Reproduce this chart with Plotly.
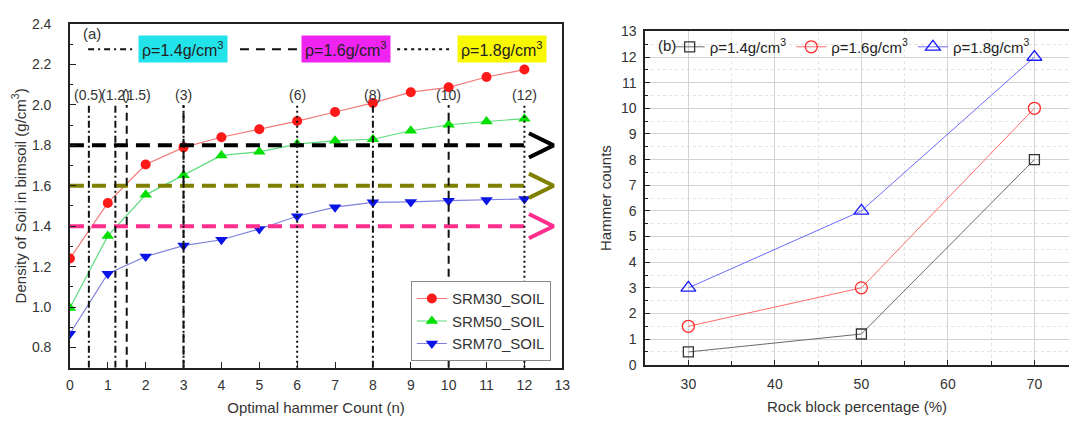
import plotly.graph_objects as go

# ---------------- data ----------------
# (a) density of soil vs hammer count
hammer_n = [0, 1, 2, 3, 4, 5, 6, 7, 8, 9, 10, 11, 12]
srm30_soil = [1.24, 1.515, 1.705, 1.79, 1.84, 1.88, 1.92, 1.965, 2.01, 2.063, 2.087, 2.138, 2.175]
srm50_soil = [0.995, 1.352, 1.555, 1.652, 1.75, 1.768, 1.806, 1.823, 1.83, 1.872, 1.902, 1.918, 1.932]
srm70_soil = [0.868, 1.165, 1.25, 1.304, 1.333, 1.386, 1.449, 1.494, 1.518, 1.52, 1.526, 1.53, 1.535]

# target density levels
rho_levels = [1.4, 1.6, 1.8]
rho_names = ["ρ=1.4g/cm<sup>3</sup>", "ρ=1.6g/cm<sup>3</sup>", "ρ=1.8g/cm<sup>3</sup>"]

# (b) hammer counts needed for each level vs rock block percentage
rock_pct = [30, 50, 70]
counts_rho14 = [0.5, 1.2, 8]
counts_rho16 = [1.5, 3, 10]
counts_rho18 = [3, 6, 12]

series_a = [
    ("SRM30_SOIL", srm30_soil),
    ("SRM50_SOIL", srm50_soil),
    ("SRM70_SOIL", srm70_soil),
]
series_b = [counts_rho14, counts_rho16, counts_rho18]

# ---------------- styles ----------------
FONT = "Arial, Liberation Sans, sans-serif"
a_styles = [
    dict(line="#f27a7a", marker="#ff1a1a", symbol="circle", size=10),
    dict(line="#5fdc7f", marker="#00e000", symbol="triangle-up", size=11),
    dict(line="#8080dc", marker="#0a14e6", symbol="triangle-down", size=11),
]
level_colors = ["#ff2d8c", "#808000", "#000000"]          # horizontal level lines 1.4 / 1.6 / 1.8
level_vdash = ["7px,3px,2px,3px", "8px,5px", "2px,3px"]  # vertical marker line styles
level_sample_dash = ["6px,4px,2px,4px", "9px,7px", "3px,4px"]
level_box_colors = ["#22e2ea", "#f024f0", "#f8f800"]
b_styles = [
    dict(line="#6a6a6a", marker="#333333", symbol="square-open", size=10),
    dict(line="#ff6b6b", marker="#ff2a2a", symbol="circle-open", size=12),
    dict(line="#6b6bff", marker="#1a1aff", symbol="triangle-up-open", size=13),
]

fig = go.Figure()

# ---- panel (a): curves ----
for (name, vals), st in zip(series_a, a_styles):
    fig.add_trace(go.Scatter(
        x=hammer_n, y=vals, name=name, mode="lines+markers",
        line=dict(color=st["line"], width=1.2),
        marker=dict(color=st["marker"], symbol=st["symbol"], size=st["size"]),
        xaxis="x", yaxis="y", legend="legend",
    ))

# ---- panel (a): horizontal level lines with chevron heads ----
line_end = 12.12
head_tip = 12.77
head_half = 0.06
for lvl, col in zip(rho_levels, level_colors):
    fig.add_trace(go.Scatter(
        x=[0, line_end], y=[lvl, lvl], mode="lines",
        line=dict(color=col, width=4, dash="14px,8px"),
        showlegend=False, hoverinfo="skip", xaxis="x", yaxis="y",
    ))
    fig.add_trace(go.Scatter(
        x=[line_end, head_tip, line_end], y=[lvl + head_half, lvl, lvl - head_half],
        mode="lines", line=dict(color=col, width=4),
        showlegend=False, hoverinfo="skip", xaxis="x", yaxis="y",
    ))

# ---- panel (a): vertical lines at required hammer counts ----
v_top = 2.0
label_y = 2.047
label_shift = {1.5: 10}
for counts, vdash in zip(series_b, level_vdash):
    for n in counts:
        fig.add_trace(go.Scatter(
            x=[n, n], y=[0.7, v_top], mode="lines",
            line=dict(color="#111111", width=2, dash=vdash),
            showlegend=False, hoverinfo="skip", xaxis="x", yaxis="y",
        ))
labelled = sorted(set(counts_rho14 + counts_rho16 + counts_rho18))
for n in labelled:
    txt = "(%g)" % n
    fig.add_annotation(x=n, y=label_y, xref="x", yref="y", text=txt, showarrow=False,
                       xshift=label_shift.get(n, 0),
                       font=dict(family=FONT, size=14, color="#333333"))

# ---- panel (a): line-style key for the density levels ----
key_y = 2.275
sample_x = [(0.48, 1.75), (4.49, 6.0), (8.64, 10.1)]
box_x = [2.98, 7.28, 11.40]
for (x0, x1), dsh, bx, bcol, txt in zip(sample_x, level_sample_dash, box_x, level_box_colors, rho_names):
    fig.add_shape(type="line", xref="x", yref="y", x0=x0, x1=x1, y0=key_y, y1=key_y,
                  line=dict(color="#111111", width=2, dash=dsh))
    fig.add_annotation(x=bx, y=key_y, xref="x", yref="y", text=txt, showarrow=False,
                       bgcolor=bcol, borderpad=3,
                       font=dict(family=FONT, size=16, color="#222222"))
fig.add_annotation(x=0.3, y=2.355, xref="x", yref="y", text="(a)", showarrow=False,
                   xanchor="left", font=dict(family=FONT, size=15, color="#333333"))

# ---- panel (b) ----
for vals, name, st in zip(series_b, rho_names, b_styles):
    fig.add_trace(go.Scatter(
        x=rock_pct, y=vals, name=name, mode="lines+markers",
        line=dict(color=st["line"], width=1),
        marker=dict(color=st["marker"], symbol=st["symbol"], size=st["size"],
                    line=dict(width=1.3, color=st["marker"])),
        xaxis="x2", yaxis="y2", legend="legend2",
    ))
fig.add_annotation(x=26.3, y=12.45, xref="x2", yref="y2", text="(b)", showarrow=False,
                   xanchor="left", font=dict(family=FONT, size=15, color="#222222"))

tickfont = dict(family=FONT, size=14, color="#333333")
titlefont = dict(family=FONT, size=15, color="#333333")

fig.update_layout(
    width=1077, height=426,
    margin=dict(l=0, r=0, t=0, b=0),
    paper_bgcolor="white", plot_bgcolor="white",
    font=dict(family=FONT),
    xaxis=dict(
        domain=[0.0619, 0.5242], range=[0, 13], tickmode="array", tickvals=list(range(14)),
        ticks="inside", ticklen=6, tickcolor="#222", showline=True, linecolor="#222",
        linewidth=1.5, mirror=True, showgrid=False, zeroline=False, tickfont=tickfont,
        ticklabelstandoff=4,
        title=dict(text="Optimal hammer Count (n)", font=titlefont, standoff=10),
        anchor="y",
    ),
    yaxis=dict(
        domain=[0.1228, 0.9608], range=[0.7, 2.4], tick0=0.8, dtick=0.2, tickformat=".1f",
        ticks="inside", ticklen=6, tickcolor="#222", showline=True, linecolor="#222",
        linewidth=1.5, mirror=True, showgrid=False, zeroline=False, tickfont=tickfont,
        ticklabelstandoff=14,
        minor=dict(dtick=0.1, ticks="inside", ticklen=3, tickcolor="#222"),
        title=dict(text="Density of Soil in bimsoil (g/cm<sup>3</sup>)", font=titlefont, standoff=2),
        anchor="x",
    ),
    xaxis2=dict(
        domain=[0.602, 1.0], range=[25, 74.0], tick0=30, dtick=10,
        ticks="inside", ticklen=5, tickcolor="#222", showline=True, linecolor="#222",
        linewidth=1.5, mirror=True, showgrid=True, gridcolor="#d2d2d2", gridwidth=1,
        zeroline=False, tickfont=tickfont, ticklabelstandoff=6,
        minor=dict(dtick=5, ticks="inside", ticklen=4, tickcolor="#222",
                   showgrid=True, gridcolor="#e2e2e2", griddash="dot"),
        title=dict(text="Rock block percentage (%)", font=titlefont, standoff=10),
        anchor="y2",
    ),
    yaxis2=dict(
        domain=[0.1298, 0.9430], range=[0, 13], dtick=1,
        ticks="inside", ticklen=5, tickcolor="#222", showline=True, linecolor="#222",
        linewidth=1.5, mirror=False, showgrid=True, gridcolor="#d2d2d2", gridwidth=1,
        zeroline=False, tickfont=tickfont, ticklabelstandoff=4,
        minor=dict(dtick=0.5, ticks="inside", ticklen=3, tickcolor="#222",
                   showgrid=True, gridcolor="#e2e2e2", griddash="dot"),
        title=dict(text="Hammer counts", font=titlefont, standoff=6),
        anchor="x2",
    ),
    legend=dict(
        x=0.5135, xanchor="right", y=0.236, yanchor="middle",
        bgcolor="white", bordercolor="#888888", borderwidth=1,
        font=dict(family=FONT, size=15, color="#333333"),
        tracegroupgap=0, itemsizing="trace",
    ),
    legend2=dict(
        orientation="h", x=0.625, xanchor="left", y=0.945, yanchor="top",
        bgcolor="rgba(0,0,0,0)", borderwidth=0,
        font=dict(family=FONT, size=15, color="#222222"),
    ),
    showlegend=True,
)

fig.write_html("out.html")
